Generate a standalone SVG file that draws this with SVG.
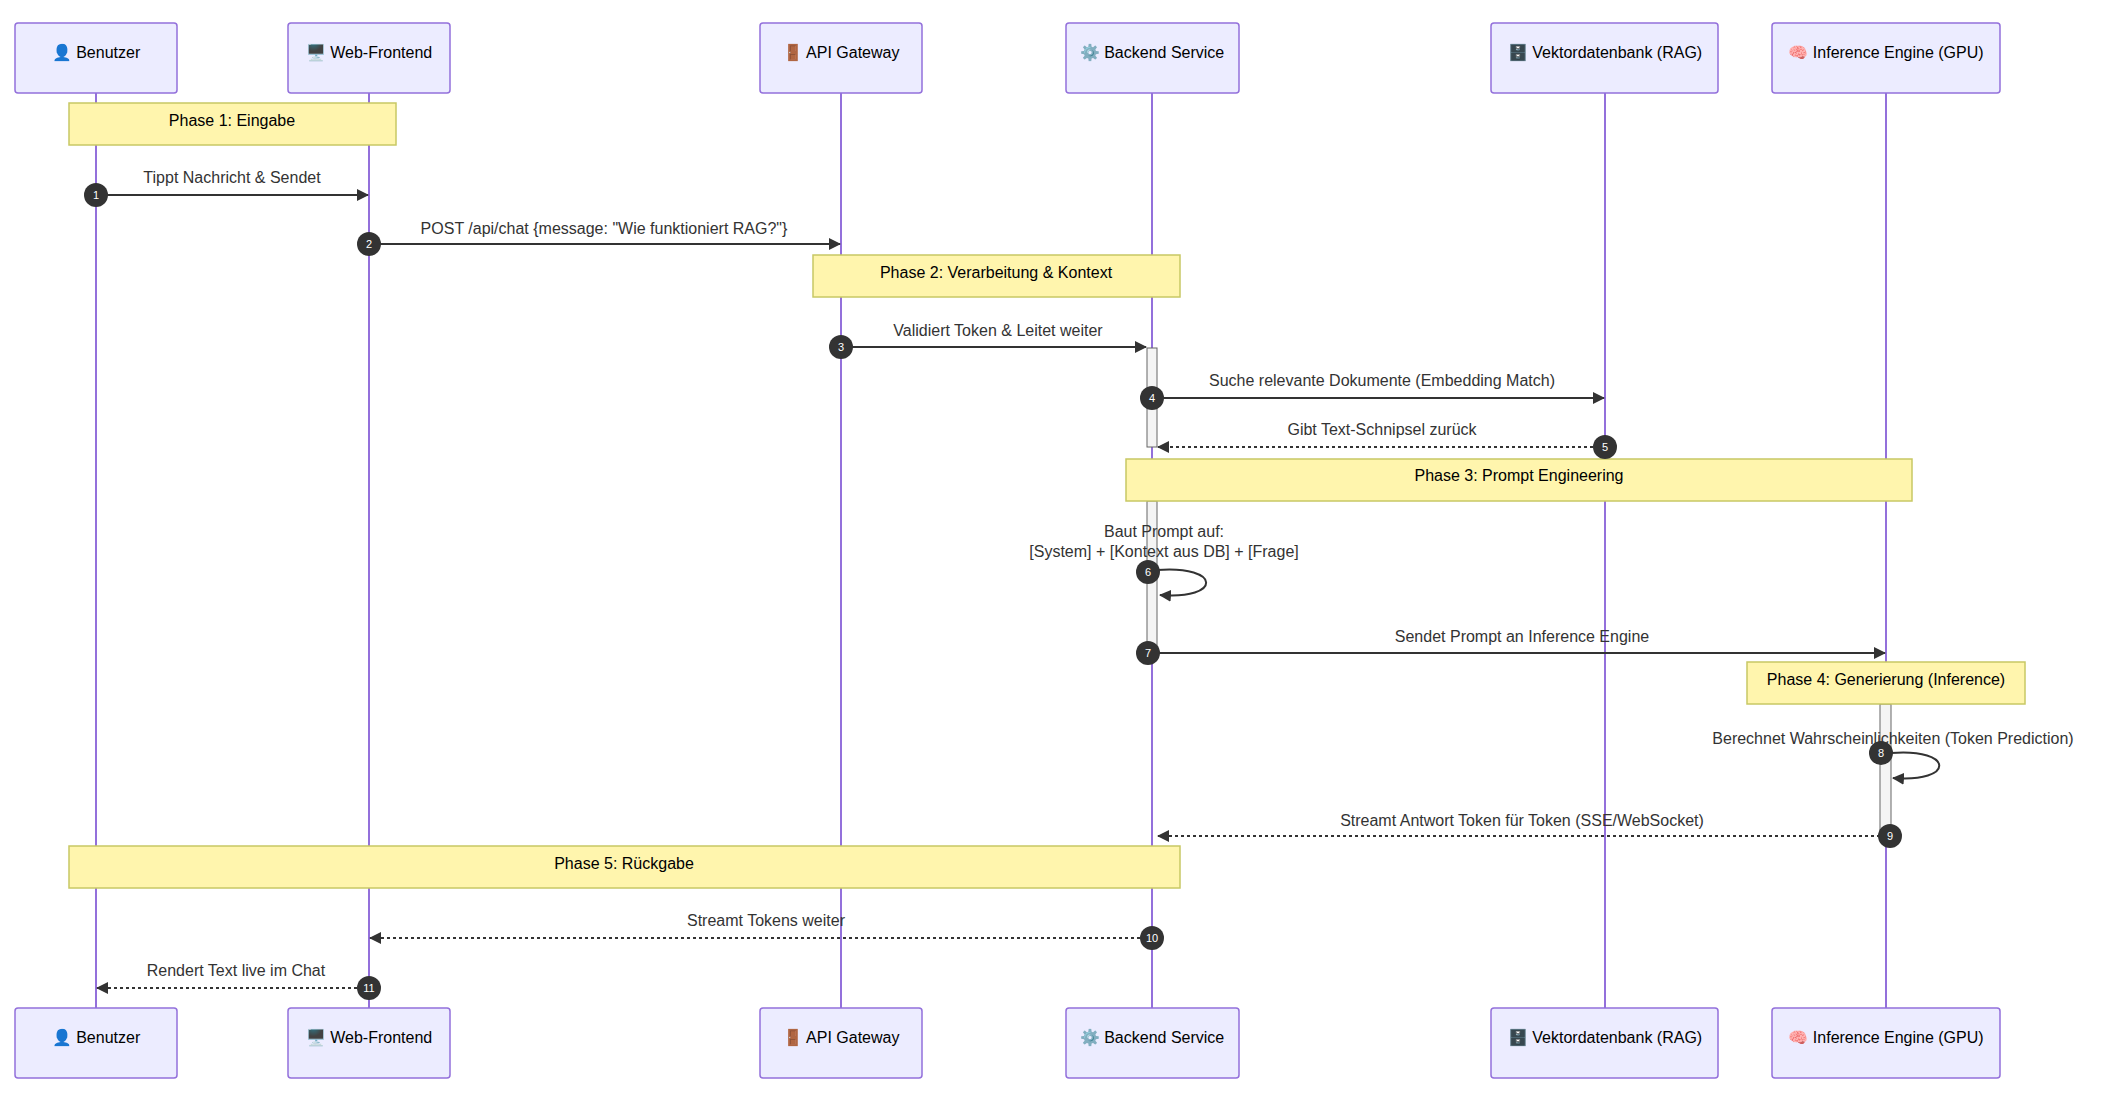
<svg xmlns="http://www.w3.org/2000/svg" width="2106" height="1100" viewBox="0 0 2106 1100">
<style>
.actor{fill:#ECECFF;stroke:#9370DB;stroke-width:1.5}
.life{stroke:#9370DB;stroke-width:2}
.note{fill:#FFF5AD;stroke:#C8C864;stroke-width:1.5}
.act{fill:#F4F4F4;stroke:#666;stroke-width:1}
.msg{stroke:#333;stroke-width:2;fill:none}
.dash{stroke-dasharray:3,3}
text{font-family:"Liberation Sans",Arial,sans-serif;font-size:16px;fill:#333;text-anchor:middle}
.nt{fill:#000}
.num{fill:#fff;font-size:11px}
.c{fill:#333}
</style>
<defs>
<marker id="ah" viewBox="0 0 12 12" refX="11" refY="6" markerWidth="12" markerHeight="12" markerUnits="userSpaceOnUse" orient="auto"><path d="M0,0 L12,6 L0,12 z" fill="#333"/></marker>
</defs>
<g id="lifelines">
<line class="life" x1="96" y1="93" x2="96" y2="1008"/>
<line class="life" x1="369" y1="93" x2="369" y2="1008"/>
<line class="life" x1="841" y1="93" x2="841" y2="1008"/>
<line class="life" x1="1152" y1="93" x2="1152" y2="1008"/>
<line class="life" x1="1605" y1="93" x2="1605" y2="1008"/>
<line class="life" x1="1886" y1="93" x2="1886" y2="1008"/>
</g>
<g id="actor-benutzer"><rect class="actor" x="15" y="23" width="162" height="70" rx="3"/><text x="96" y="58" class="nt">👤 Benutzer</text><rect class="actor" x="15" y="1008" width="162" height="70" rx="3"/><text x="96" y="1043" class="nt">👤 Benutzer</text></g>
<g id="actor-web"><rect class="actor" x="288" y="23" width="162" height="70" rx="3"/><text x="369" y="58" class="nt">🖥️ Web-Frontend</text><rect class="actor" x="288" y="1008" width="162" height="70" rx="3"/><text x="369" y="1043" class="nt">🖥️ Web-Frontend</text></g>
<g id="actor-api"><rect class="actor" x="760" y="23" width="162" height="70" rx="3"/><text x="841" y="58" class="nt">🚪 API Gateway</text><rect class="actor" x="760" y="1008" width="162" height="70" rx="3"/><text x="841" y="1043" class="nt">🚪 API Gateway</text></g>
<g id="actor-backend"><rect class="actor" x="1066" y="23" width="173" height="70" rx="3"/><text x="1152" y="58" class="nt">⚙️ Backend Service</text><rect class="actor" x="1066" y="1008" width="173" height="70" rx="3"/><text x="1152" y="1043" class="nt">⚙️ Backend Service</text></g>
<g id="actor-vektor"><rect class="actor" x="1491" y="23" width="227" height="70" rx="3"/><text x="1605" y="58" class="nt">🗄️ Vektordatenbank (RAG)</text><rect class="actor" x="1491" y="1008" width="227" height="70" rx="3"/><text x="1605" y="1043" class="nt">🗄️ Vektordatenbank (RAG)</text></g>
<g id="actor-inference"><rect class="actor" x="1772" y="23" width="228" height="70" rx="3"/><text x="1886" y="58" class="nt">🧠 Inference Engine (GPU)</text><rect class="actor" x="1772" y="1008" width="228" height="70" rx="3"/><text x="1886" y="1043" class="nt">🧠 Inference Engine (GPU)</text></g>
<g id="activations">
<rect class="act" x="1147" y="348" width="10" height="99"/>
<rect class="act" x="1147" y="501" width="10" height="154"/>
<rect class="act" x="1880" y="704" width="11" height="131"/>
</g>
<g id="notes">
<rect class="note" x="69" y="103" width="327" height="42"/><text x="232" y="126" class="nt">Phase 1: Eingabe</text>
<rect class="note" x="813" y="255" width="367" height="42"/><text x="996" y="278" class="nt">Phase 2: Verarbeitung &amp; Kontext</text>
<rect class="note" x="1126" y="459" width="786" height="42"/><text x="1519" y="481" class="nt">Phase 3: Prompt Engineering</text>
<rect class="note" x="1747" y="662" width="278" height="42"/><text x="1886" y="685" class="nt">Phase 4: Generierung (Inference)</text>
<rect class="note" x="69" y="846" width="1111" height="42"/><text x="624" y="869" class="nt">Phase 5: Rückgabe</text>
</g>
<g id="connectors">
<line class="msg" x1="96" y1="195" x2="368" y2="195" marker-end="url(#ah)"/>
<text x="232" y="183">Tippt Nachricht &amp; Sendet</text>
<line class="msg" x1="369" y1="244" x2="840" y2="244" marker-end="url(#ah)"/>
<text x="604" y="234">POST /api/chat {message: "Wie funktioniert RAG?"}</text>
<line class="msg" x1="841" y1="347" x2="1146" y2="347" marker-end="url(#ah)"/>
<text x="998" y="336">Validiert Token &amp; Leitet weiter</text>
<line class="msg" x1="1157" y1="398" x2="1604" y2="398" marker-end="url(#ah)"/>
<text x="1382" y="386">Suche relevante Dokumente (Embedding Match)</text>
<line class="msg dash" x1="1605" y1="447" x2="1158" y2="447" marker-end="url(#ah)"/>
<text x="1382" y="435">Gibt Text-Schnipsel zurück</text>
<text x="1164" y="537">Baut Prompt auf:</text>
<text x="1164" y="557">[System] + [Kontext aus DB] + [Frage]</text>
<path class="msg" d="M1157,570 C1222,565 1222,600 1160,595" marker-end="url(#ah)"/>
<line class="msg" x1="1157" y1="653" x2="1885" y2="653" marker-end="url(#ah)"/>
<text x="1522" y="642">Sendet Prompt an Inference Engine</text>
<text x="1893" y="744">Berechnet Wahrscheinlichkeiten (Token Prediction)</text>
<path class="msg" d="M1891,753 C1955,748 1955,783 1893,778" marker-end="url(#ah)"/>
<line class="msg dash" x1="1880" y1="836" x2="1158" y2="836" marker-end="url(#ah)"/>
<text x="1522" y="826">Streamt Antwort Token für Token (SSE/WebSocket)</text>
<line class="msg dash" x1="1152" y1="938" x2="370" y2="938" marker-end="url(#ah)"/>
<text x="766" y="926">Streamt Tokens weiter</text>
<line class="msg dash" x1="369" y1="988" x2="97" y2="988" marker-end="url(#ah)"/>
<text x="236" y="976">Rendert Text live im Chat</text>
</g>
<g id="sequence-numbers">
<circle class="c" cx="96" cy="195" r="12"/><text class="num" x="96" y="199">1</text>
<circle class="c" cx="369" cy="244" r="12"/><text class="num" x="369" y="248">2</text>
<circle class="c" cx="841" cy="347" r="12"/><text class="num" x="841" y="351">3</text>
<circle class="c" cx="1152" cy="398" r="12"/><text class="num" x="1152" y="402">4</text>
<circle class="c" cx="1605" cy="447" r="12"/><text class="num" x="1605" y="451">5</text>
<circle class="c" cx="1148" cy="572" r="12"/><text class="num" x="1148" y="576">6</text>
<circle class="c" cx="1148" cy="653" r="12"/><text class="num" x="1148" y="657">7</text>
<circle class="c" cx="1881" cy="753" r="12"/><text class="num" x="1881" y="757">8</text>
<circle class="c" cx="1890" cy="836" r="12"/><text class="num" x="1890" y="840">9</text>
<circle class="c" cx="1152" cy="938" r="12"/><text class="num" x="1152" y="942">10</text>
<circle class="c" cx="369" cy="988" r="12"/><text class="num" x="369" y="992">11</text>
</g>
</svg>
